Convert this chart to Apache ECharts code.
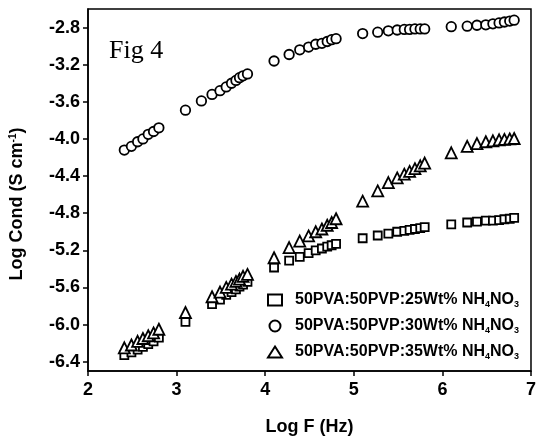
<!DOCTYPE html>
<html>
<head>
<meta charset="utf-8">
<script src="https://cdn.jsdelivr.net/npm/echarts@6/dist/echarts.min.js"></script>
<style>
  html, body { margin: 0; padding: 0; background: #fff; }
  #chart { width: 539px; height: 441px; }
</style>
</head>
<body>
<div id="chart"></div>
<script>
// log F (Hz) values shared by the 25 and 35 wt% samples
const logF = [2.41, 2.49, 2.56, 2.62, 2.68, 2.74, 2.80,
  3.10,
  3.40, 3.49, 3.56, 3.62, 3.67, 3.71, 3.75, 3.80,
  4.10, 4.27, 4.39, 4.49, 4.57, 4.64, 4.70, 4.75, 4.80,
  5.10, 5.27, 5.39, 5.49, 5.57, 5.63, 5.69, 5.75, 5.80,
  6.10, 6.28, 6.39, 6.49, 6.57, 6.64, 6.70, 6.76, 6.81];
// the 30 wt% sample has one extra point near 3.28
const logF30 = [2.41, 2.49, 2.56, 2.62, 2.68, 2.74, 2.80,
  3.10, 3.28,
  3.40, 3.49, 3.56, 3.62, 3.67, 3.71, 3.75, 3.80,
  4.10, 4.27, 4.39, 4.49, 4.57, 4.64, 4.70, 4.75, 4.80,
  5.10, 5.27, 5.39, 5.49, 5.57, 5.63, 5.69, 5.75, 5.80,
  6.10, 6.28, 6.39, 6.49, 6.57, 6.64, 6.70, 6.76, 6.81];

const cond25 = [-6.33, -6.30, -6.27, -6.24, -6.21, -6.18, -6.14,
  -5.97,
  -5.78, -5.73, -5.68, -5.65, -5.62, -5.59, -5.57, -5.54,
  -5.385, -5.31, -5.27, -5.23, -5.20, -5.18, -5.16, -5.145, -5.13,
  -5.07, -5.04, -5.02, -5.00, -4.99, -4.98, -4.97, -4.96, -4.95,
  -4.92, -4.90, -4.89, -4.88, -4.88, -4.875, -4.865, -4.86, -4.85];
const cond30 = [-4.12, -4.08, -4.03, -4.00, -3.95, -3.92, -3.88,
  -3.69, -3.59,
  -3.52, -3.48, -3.44, -3.40, -3.37, -3.34, -3.32, -3.30,
  -3.16, -3.09, -3.04, -3.01, -2.98, -2.97, -2.95, -2.93, -2.92,
  -2.865, -2.85, -2.835, -2.826, -2.82, -2.82, -2.815, -2.815, -2.815,
  -2.79, -2.785, -2.775, -2.77, -2.76, -2.75, -2.74, -2.73, -2.72];
const cond35 = [-6.25, -6.22, -6.18, -6.15, -6.12, -6.09, -6.05,
  -5.87,
  -5.70, -5.65, -5.60, -5.565, -5.535, -5.51, -5.48, -5.46,
  -5.28, -5.17, -5.10, -5.045, -5.00, -4.97, -4.93, -4.90, -4.86,
  -4.67, -4.56, -4.47, -4.42, -4.38, -4.35, -4.32, -4.29, -4.26,
  -4.15, -4.08, -4.05, -4.03, -4.02, -4.01, -4.005, -4.00, -3.995];

const seriesNames = ['50PVA:50PVP:25Wt% NH4NO3', '50PVA:50PVP:30Wt% NH4NO3', '50PVA:50PVP:35Wt% NH4NO3'];
const yTicks = [-6.4, -6.0, -5.6, -5.2, -4.8, -4.4, -4.0, -3.6, -3.2, -2.8];

const zip = (xs, ys) => xs.map((x, i) => [x, ys[i]]);
const font = 'Liberation Sans, Arial, sans-serif';

const myChart = echarts.init(document.getElementById('chart'));

function mark(name, symbol, size, xs, ys) {
  return {
    name: name,
    type: 'scatter',
    symbol: symbol,
    symbolSize: size,
    itemStyle: { color: '#fff', borderColor: '#000', borderWidth: 1.8, opacity: 1 },
    data: zip(xs, ys)
  };
}

const option = {
  animation: false,
  backgroundColor: '#fff',
  grid: { left: 85, right: 6, top: 9, bottom: 68, show: true, borderColor: '#000', borderWidth: 1.5, backgroundColor: 'transparent' },
  xAxis: {
    type: 'value',
    min: 2, max: 7, interval: 1,
    name: 'Log F (Hz)',
    nameLocation: 'middle',
    nameGap: 47,
    nameTextStyle: { color: '#000', fontFamily: font, fontWeight: 'bold', fontSize: 18 },
    axisLine: { lineStyle: { color: '#000', width: 1.5 } },
    axisTick: { length: 5, lineStyle: { color: '#000', width: 1.5 } },
    axisLabel: { color: '#000', fontFamily: font, fontWeight: 'bold', fontSize: 18, margin: 10 },
    splitLine: { show: false }
  },
  yAxis: {
    type: 'value',
    min: -6.5, max: -2.6,
    name: '{a|Log Cond (S cm}{sup|-1}{a|)}',
    nameLocation: 'middle',
    nameGap: 62,
    nameRotate: 90,
    nameTextStyle: {
      padding: [0, 28, 0, 0],
      rich: {
        a: { color: '#000', fontFamily: font, fontWeight: 'bold', fontSize: 18 },
        sup: { color: '#000', fontFamily: font, fontWeight: 'bold', fontSize: 10, verticalAlign: 'top', padding: [0, 0, 8, 0] }
      }
    },
    axisLine: { lineStyle: { color: '#000', width: 1.5 } },
    axisTick: { length: 5, customValues: yTicks, lineStyle: { color: '#000', width: 1.5 } },
    axisLabel: {
      customValues: yTicks,
      color: '#000', fontFamily: font, fontWeight: 'bold', fontSize: 18, margin: 8,
      formatter: v => v.toFixed(1)
    },
    splitLine: { show: false }
  },
  legend: {
    orient: 'vertical',
    left: 262, top: 286,
    itemWidth: 14, itemHeight: 11,
    itemGap: 8,
    data: seriesNames,
    formatter: n => '{a|' + n.replace('NH4NO3', 'NH') + '}{s|4}{a|NO}{s|3}',
    textStyle: {
      padding: [0, 0, 0, 8],
      rich: {
        a: { color: '#000', fontFamily: font, fontWeight: 'bold', fontSize: 16, lineHeight: 18 },
        s: { color: '#000', fontFamily: font, fontWeight: 'bold', fontSize: 9, lineHeight: 18, verticalAlign: 'bottom', padding: [9, 0, 0, 0] }
      }
    }
  },
  graphic: [{
    type: 'text',
    left: 109, top: 38,
    style: { text: 'Fig 4', fill: '#000', font: '26px "Liberation Serif", "Times New Roman", serif' }
  }],
  series: [
    mark(seriesNames[0], 'rect', 8, logF, cond25),
    mark(seriesNames[1], 'circle', 9.5, logF30, cond30),
    mark(seriesNames[2], 'triangle', 11, logF, cond35)
  ]
};

myChart.setOption(option, true);
window.addEventListener('resize', function () {
  myChart.resize();
});
</script>
</body>
</html>
